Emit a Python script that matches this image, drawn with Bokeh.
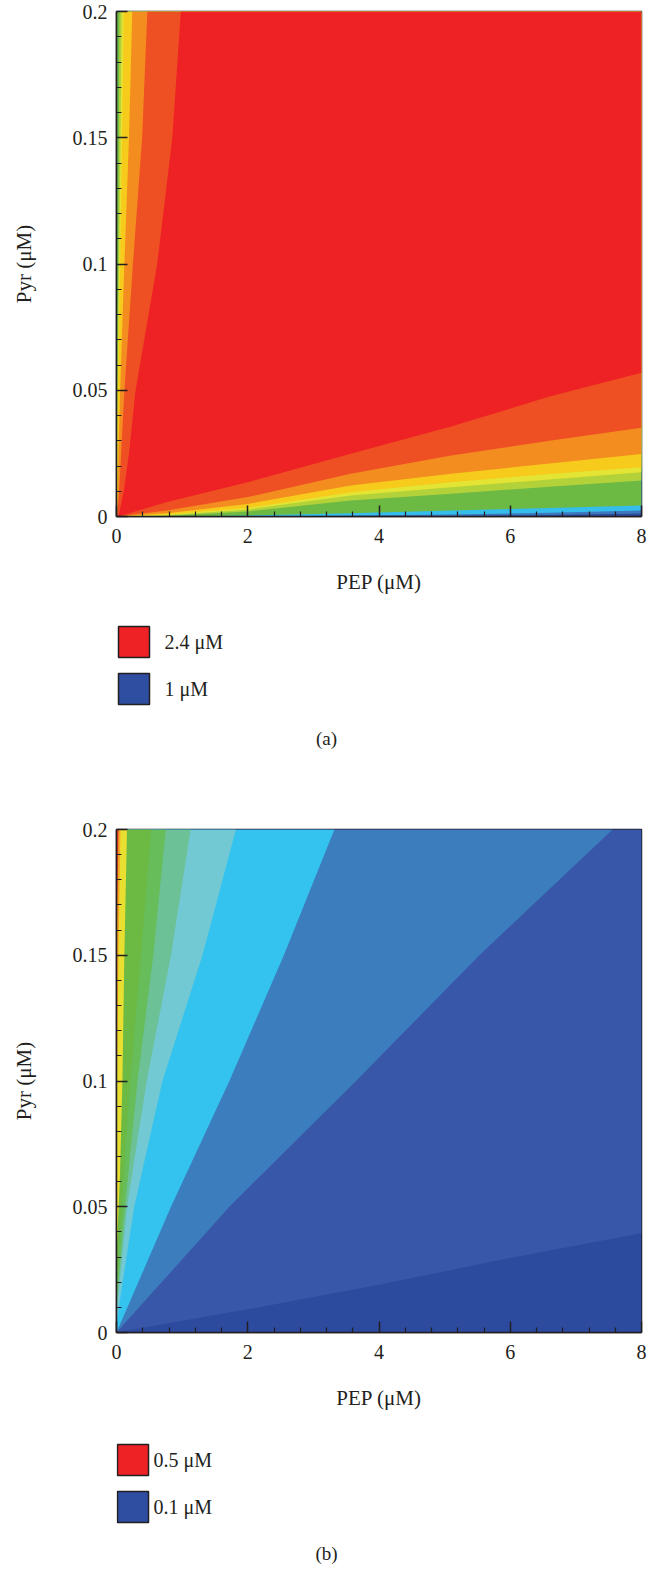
from bokeh.plotting import figure
from bokeh.layouts import column
from bokeh.models import FixedTicker, Range1d
from bokeh.core.properties import value
from bokeh.embed import file_html
from bokeh.resources import INLINE

FONT = "Liberation Serif"

# ---------------- axes ----------------
X_LIMITS = [0, 8]
Y_LIMITS = [0, 0.2]
X_TICKS = [0, 2, 4, 6, 8]
X_TICK_LABELS = ["0", "2", "4", "6", "8"]
X_MINOR = [0.4, 0.8, 1.2, 1.6, 2.4, 2.8, 3.2, 3.6, 4.4, 4.8, 5.2, 5.6, 6.4, 6.8, 7.2, 7.6]
Y_TICKS = [0, 0.05, 0.1, 0.15, 0.2]
Y_TICK_LABELS = ["0", "0.05", "0.1", "0.15", "0.2"]
Y_MINOR = [0.01, 0.02, 0.03, 0.04, 0.06, 0.07, 0.08, 0.09, 0.11, 0.12, 0.13, 0.14,
           0.16, 0.17, 0.18, 0.19]
X_TITLE = "PEP (μM)"
Y_TITLE = "Pyr (μM)"

# ---------------- panel (a): band boundaries ----------------
# lower boundaries of each band (Pyr value along PEP)
A_BOTTOM_X = [0, 0.77, 2.0, 3.57, 5.1, 6.6, 8.0]
A_BLUE_BOTTOM = [0, 0, 0, 0, 0.0002, 0.0006, 0.0012]
A_CYAN_BOTTOM = [0, 0, 0, 0.0004, 0.0008, 0.0015, 0.0024]
A_GREEN_BOTTOM = [0, 0, 0.0004, 0.0013, 0.0024, 0.0034, 0.0044]
A_YELLOWGREEN_BOTTOM = [0, 0.0003, 0.0020, 0.0063, 0.0090, 0.0118, 0.0143]
A_LIGHTYELLOW_BOTTOM = [0, 0.0005, 0.0028, 0.0083, 0.0116, 0.0147, 0.0175]
A_YELLOW_BOTTOM = [0, 0.0008, 0.0034, 0.0096, 0.0136, 0.0168, 0.0195]
A_ORANGE_BOTTOM = [0, 0.0013, 0.0050, 0.0123, 0.0169, 0.0210, 0.0248]
A_REDORANGE_BOTTOM = [0, 0.0024, 0.0077, 0.0169, 0.0242, 0.0300, 0.0351]
A_RED_BOTTOM = [0, 0.0057, 0.0136, 0.0249, 0.0356, 0.0475, 0.0569]
# left boundaries of each band (PEP value along Pyr)
A_LEFT_Y = [0, 0.01, 0.025, 0.05, 0.1, 0.15, 0.2]
A_EDGE_LEFT = [0, 0, 0, 0, 0, 0, 0]
A_YELLOWGREEN_LEFT = [0, 0.002, 0.005, 0.012, 0.025, 0.035, 0.045]
A_LIGHTYELLOW_LEFT = [0, 0.004, 0.01, 0.018, 0.04, 0.062, 0.08]
A_YELLOW_LEFT = [0, 0.008, 0.015, 0.025, 0.055, 0.085, 0.11]
A_ORANGE_LEFT = [0.005, 0.02, 0.03, 0.055, 0.12, 0.19, 0.24]
A_REDORANGE_LEFT = [0.01, 0.04, 0.07, 0.12, 0.25, 0.39, 0.47]
A_RED_LEFT = [0.03, 0.11, 0.19, 0.29, 0.62, 0.85, 0.98]
A_COLORS = ["#2C4A9E", "#3C78BE", "#35BDEB", "#6CB944", "#B3D23A", "#E3E433",
            "#F6CB1C", "#F48D20", "#EF5023", "#EE2224"]
A_LEGEND_LABELS = ["2.4 μM", "1 μM"]
A_LEGEND_COLORS = ["#EE2224", "#2E4FA1"]

# ---------------- panel (b): band boundaries ----------------
B_BOTTOM_X = [0, 2, 4, 6, 8]
B_BLUE_BOTTOM = [0, 0.0092, 0.019, 0.0296, 0.0395]
B_MIDBLUE_X = [0, 1.72, 3.65, 5.53, 7.56]
B_MIDBLUE_Y = [0, 0.05, 0.1, 0.15, 0.2]
B_CYAN_X = [0, 0.83, 1.72, 2.55, 3.32]
B_CYAN_Y = [0, 0.05, 0.1, 0.15, 0.2]
B_LIGHTTEAL_X = [0, 0.27, 0.70, 1.31, 1.82]
B_LIGHTTEAL_Y = [0.004, 0.05, 0.1, 0.15, 0.2]
B_TEAL_X = [0, 0.16, 0.46, 0.83, 1.13]
B_TEAL_Y = [0.008, 0.05, 0.1, 0.15, 0.2]
B_GREEN2_X = [0, 0.13, 0.32, 0.56, 0.75]
B_GREEN2_Y = [0.012, 0.05, 0.1, 0.15, 0.2]
B_GREEN_X = [0, 0.08, 0.21, 0.375, 0.53]
B_GREEN_Y = [0.018, 0.05, 0.1, 0.15, 0.2]
B_YELLOW_X = [0, 0.05, 0.09, 0.12, 0.16]
B_YELLOW_Y = [0.03, 0.06, 0.1, 0.15, 0.2]
B_ORANGE_X = [0, 0.03, 0.06]
B_ORANGE_Y = [0.08, 0.15, 0.2]
B_RED_X = [0, 0.03]
B_RED_Y = [0.15, 0.2]
B_COLORS = ["#2C4A9E", "#3857A8", "#3C7DBE", "#34C3EF", "#72C8D3", "#6DC196",
            "#66BD5A", "#6CB944", "#E8DF30", "#F5A623", "#EE3524"]
B_LEGEND_LABELS = ["0.5 μM", "0.1 μM"]
B_LEGEND_COLORS = ["#EE2224", "#2E4FA1"]

FRAME_LEFT, FRAME_RIGHT = 116, 641  # page pixels of the plot frames


def band_a(left_x, bottom_y):
    """region right of left boundary and above bottom boundary"""
    xs = list(left_x) + [X_LIMITS[1]]
    ys = list(A_LEFT_Y) + [Y_LIMITS[1]]
    for bx, by in reversed(list(zip(A_BOTTOM_X, bottom_y))):
        if bx > left_x[0]:
            xs.append(bx)
            ys.append(by)
    return xs, ys


def band_b_left(bx, by):
    """region left of a boundary running from the left edge to the top edge"""
    return list(bx) + [X_LIMITS[0]], list(by) + [Y_LIMITS[1]]


def style_panel(p):
    p.grid.visible = False
    p.outline_line_color = "#231F20"
    p.outline_line_width = 1.5
    p.xaxis.ticker = FixedTicker(ticks=X_TICKS, minor_ticks=X_MINOR)
    p.yaxis.ticker = FixedTicker(ticks=Y_TICKS, minor_ticks=Y_MINOR)
    p.xaxis.major_label_overrides = dict(zip(X_TICKS, X_TICK_LABELS))
    p.yaxis.major_label_overrides = dict(zip(Y_TICKS, Y_TICK_LABELS))
    p.xaxis.axis_label = X_TITLE
    p.yaxis.axis_label = Y_TITLE
    for ax in (p.xaxis, p.yaxis):
        ax.axis_line_color = "#231F20"
        ax.axis_line_width = 1.5
        ax.major_tick_line_color = "#231F20"
        ax.minor_tick_line_color = "#231F20"
        ax.major_tick_line_width = 1.5
        ax.minor_tick_line_width = 1.2
        ax.major_tick_in = 11
        ax.major_tick_out = 0
        ax.minor_tick_in = 5
        ax.minor_tick_out = 0
        ax.major_label_text_font = FONT
        ax.major_label_text_font_size = "20px"
        ax.major_label_text_color = "#231F20"
        ax.axis_label_text_font = FONT
        ax.axis_label_text_font_size = "21px"
        ax.axis_label_text_font_style = "normal"
        ax.axis_label_text_color = "#231F20"
    p.xaxis.major_label_standoff = 12
    p.xaxis.axis_label_standoff = 24
    p.yaxis.major_label_standoff = 9
    p.yaxis.axis_label_standoff = 34


def panel(height, top, bottom):
    p = figure(width=653, height=height, x_range=Range1d(*X_LIMITS), y_range=Range1d(*Y_LIMITS),
               output_backend="svg", toolbar_location=None,
               min_border_left=FRAME_LEFT, min_border_right=653 - FRAME_RIGHT,
               min_border_top=top, min_border_bottom=bottom)
    style_panel(p)
    return p


def legend_fig(height, labels, colors, sq_x, sq_tops, text_x, caption, caption_y):
    # frame aligned with the plot frames above; coordinates are page pixels
    p = figure(width=653, height=height, x_range=Range1d(FRAME_LEFT, FRAME_RIGHT),
               y_range=Range1d(height, 0), output_backend="svg", toolbar_location=None,
               min_border_left=FRAME_LEFT, min_border_right=653 - FRAME_RIGHT,
               min_border_top=0, min_border_bottom=0,
               x_axis_type=None, y_axis_type=None)
    p.grid.visible = False
    p.outline_line_color = None
    side = 31
    p.quad(left=[sq_x] * len(colors), right=[sq_x + side] * len(colors),
           top=sq_tops, bottom=[t + side for t in sq_tops],
           fill_color=colors, line_color="#231F20", line_width=1.5)
    p.text(x=[text_x] * len(labels), y=[t + side / 2 for t in sq_tops], text=labels,
           text_font=value(FONT), text_font_size="20px", text_baseline="middle",
           text_align="left", text_color="#231F20")
    p.text(x=[326], y=[caption_y], text=[caption], text_font=value(FONT), text_font_size="19px",
           text_baseline="middle", text_align="center", text_color="#231F20")
    return p


# ---------- panel (a) ----------
pa = panel(600, 11, 84)
a_levels = [
    (A_EDGE_LEFT, A_BLUE_BOTTOM), (A_EDGE_LEFT, A_CYAN_BOTTOM), (A_EDGE_LEFT, A_GREEN_BOTTOM),
    (A_YELLOWGREEN_LEFT, A_YELLOWGREEN_BOTTOM), (A_LIGHTYELLOW_LEFT, A_LIGHTYELLOW_BOTTOM),
    (A_YELLOW_LEFT, A_YELLOW_BOTTOM), (A_ORANGE_LEFT, A_ORANGE_BOTTOM),
    (A_REDORANGE_LEFT, A_REDORANGE_BOTTOM), (A_RED_LEFT, A_RED_BOTTOM),
]
axs = [[X_LIMITS[0], X_LIMITS[1], X_LIMITS[1], X_LIMITS[0]]]
ays = [[Y_LIMITS[0], Y_LIMITS[0], Y_LIMITS[1], Y_LIMITS[1]]]
for lx, by in a_levels:
    xs, ys = band_a(lx, by)
    axs.append(xs)
    ays.append(ys)
pa.patches(xs=axs, ys=ays, fill_color=A_COLORS, line_color=None)

la = legend_fig(217, A_LEGEND_LABELS, A_LEGEND_COLORS, 118, [26, 73], 164, "(a)", 138)

# ---------- panel (b) ----------
pb = panel(603, 12, 88)
bxs = [[X_LIMITS[0], X_LIMITS[1], X_LIMITS[1], X_LIMITS[0]]]
bys = [[Y_LIMITS[0], Y_LIMITS[0], Y_LIMITS[1], Y_LIMITS[1]]]
bxs.append(list(B_BOTTOM_X) + [X_LIMITS[1], X_LIMITS[0]])
bys.append(list(B_BLUE_BOTTOM) + [Y_LIMITS[1], Y_LIMITS[1]])
for bx, by in [(B_MIDBLUE_X, B_MIDBLUE_Y), (B_CYAN_X, B_CYAN_Y), (B_LIGHTTEAL_X, B_LIGHTTEAL_Y),
               (B_TEAL_X, B_TEAL_Y), (B_GREEN2_X, B_GREEN2_Y), (B_GREEN_X, B_GREEN_Y),
               (B_YELLOW_X, B_YELLOW_Y), (B_ORANGE_X, B_ORANGE_Y), (B_RED_X, B_RED_Y)]:
    xs, ys = band_b_left(bx, by)
    bxs.append(xs)
    bys.append(ys)
pb.patches(xs=bxs, ys=bys, fill_color=B_COLORS, line_color=None)

lb = legend_fig(150, B_LEGEND_LABELS, B_LEGEND_COLORS, 117, [24, 71], 153, "(b)", 133)

layout = column(pa, la, pb, lb, spacing=0)
open("out.html", "w").write(file_html(layout, INLINE))
